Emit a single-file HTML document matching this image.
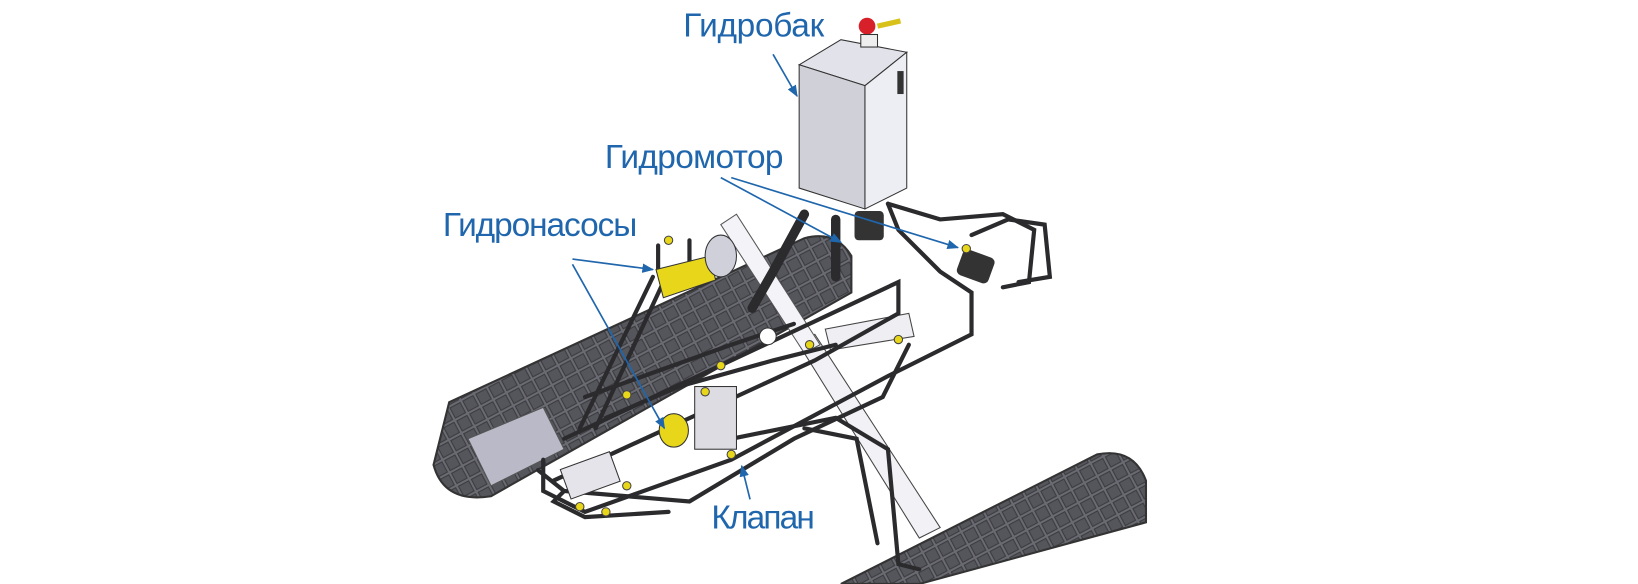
<!DOCTYPE html>
<html><head><meta charset="utf-8"><style>
html,body{margin:0;padding:0;background:#fff;}
svg{display:block;}
text{font-family:"Liberation Sans","DejaVu Sans",sans-serif;fill:#1f66ad;}
</style></head><body>
<svg width="1638" height="584" viewBox="0 0 1568 559" xmlns="http://www.w3.org/2000/svg">
<defs>
<marker id="ar" viewBox="0 0 10 10" refX="9" refY="5" markerWidth="7" markerHeight="7" orient="auto"><path d="M0,1 L10,5 L0,9 z" fill="#1f66ad"/></marker>
<pattern id="tr" width="14" height="14" patternUnits="userSpaceOnUse" patternTransform="rotate(-28)"><rect width="14" height="14" fill="#6a6b72"/><rect x="1" y="1" width="11" height="11" fill="#55565c" stroke="#3a3a3e" stroke-width="1"/></pattern>
</defs>
<path d="M430,385 L770,228 Q800,220 815,245 L815,280 L470,475 Q425,482 415,445 Z" fill="url(#tr)" stroke="#333" stroke-width="2"/>
<path d="M448,420 L520,390 L540,430 L470,465 Z" fill="#b9b9c8" stroke="#555"/>
<path d="M805,559 L1050,435 Q1085,428 1097,460 L1097,500 L880,559 Z" fill="url(#tr)" stroke="#333" stroke-width="2"/>
<path d="M765,330 L780,320 L900,505 L880,515 Z" fill="#f1f1f6" stroke="#444"/>
<path d="M690,215 L705,205 L785,330 L770,338 Z" fill="#f4f4f8" stroke="#555"/>
<path d="M790,315 L870,300 L875,322 L795,335 Z" fill="#eeeef3" stroke="#444"/>
<g fill="none" stroke="#2b2b2e" stroke-width="4" stroke-linecap="round">
<path d="M540,420 L860,270 L860,300 L780,345 L530,460"/>
<path d="M520,440 L520,470 L560,490 L700,440 L850,360 L930,320 L930,280 L900,260 L860,220 L850,195"/>
<path d="M515,450 L540,470 L660,480 L760,420 L845,380 L870,330"/>
<path d="M540,470 L530,480 L560,495 L640,490"/>
<path d="M850,195 L900,210 L960,205 L990,220 L985,270 L960,275"/>
<path d="M930,225 L965,210 L1000,215 L1005,265 L975,270"/>
<path d="M555,410 L625,265"/>
<path d="M570,410 L635,270"/>
<path d="M700,420 L800,400 L850,430 L860,540 L880,545"/>
<path d="M770,410 L820,420 L840,520"/>
<path d="M560,380 L700,330 L760,310"/>
<path d="M580,400 L650,370 L740,345 L800,330"/>
<path d="M630,235 L630,260"/><path d="M660,230 L660,255"/>
</g>
<g fill="none" stroke="#2b2b2e" stroke-width="9" stroke-linecap="round">
<path d="M770,205 L740,260 L720,295"/>
<path d="M800,210 L800,265"/>
</g>
<path d="M628,258 L680,245 L685,268 L635,285 Z" fill="#e8d61a" stroke="#333"/>
<ellipse cx="690" cy="245" rx="15" ry="20" fill="#cfd0da" stroke="#333"/>
<ellipse cx="645" cy="412" rx="14" ry="16" fill="#e8d61a" stroke="#333"/>
<rect x="540" y="440" width="50" height="30" fill="#e4e4ea" stroke="#333" transform="rotate(-20 565 455)"/>
<rect x="665" y="370" width="40" height="60" fill="#dcdce2" stroke="#333"/>
<circle cx="735" cy="322" r="8" fill="#fff" stroke="#333"/>
<rect x="818" y="202" width="28" height="28" fill="#333" rx="4"/>
<rect x="918" y="242" width="32" height="26" fill="#333" rx="5" transform="rotate(20 934 255)"/>
<path d="M765,62 L805,38 L868,50 L828,82 Z" fill="#e2e2ea" stroke="#333"/>
<path d="M765,62 L828,82 L828,200 L765,180 Z" fill="#d0d0d8" stroke="#333"/>
<path d="M828,82 L868,50 L868,180 L828,200 Z" fill="#ededf4" stroke="#333"/>
<rect x="859" y="68" width="6" height="22" fill="#333"/>
<circle cx="830" cy="25" r="8" fill="#d8202a"/>
<rect x="824" y="33" width="16" height="12" fill="#eee" stroke="#333"/>
<path d="M840,25 L862,20" stroke="#d8c21a" stroke-width="5"/>
<g fill="#e8d61a" stroke="#444" stroke-width="1">
<circle cx="600" cy="378" r="4"/><circle cx="690" cy="350" r="4"/><circle cx="600" cy="465" r="4"/><circle cx="555" cy="485" r="4"/><circle cx="580" cy="490" r="4"/><circle cx="775" cy="330" r="4"/><circle cx="860" cy="325" r="4"/><circle cx="700" cy="435" r="4"/><circle cx="925" cy="238" r="4"/><circle cx="640" cy="230" r="4"/><circle cx="675" cy="375" r="4"/>
</g>
<text x="654" y="35" font-size="32" textLength="135">Гидробак</text>
<text x="579" y="161" font-size="32" textLength="171">Гидромотор</text>
<text x="424" y="226" font-size="32" textLength="186">Гидронасосы</text>
<text x="681" y="506" font-size="32" textLength="99">Клапан</text>
<g stroke="#1f66ad" stroke-width="1.6" fill="none" marker-end="url(#ar)">
<path d="M740,52 L763,92"/>
<path d="M690,170 L805,232"/>
<path d="M700,170 L917,237"/>
<path d="M548,248 L625,258"/>
<path d="M548,253 L636,410"/>
<path d="M718,478 L710,446"/>
</g>
</svg>
</body></html>
